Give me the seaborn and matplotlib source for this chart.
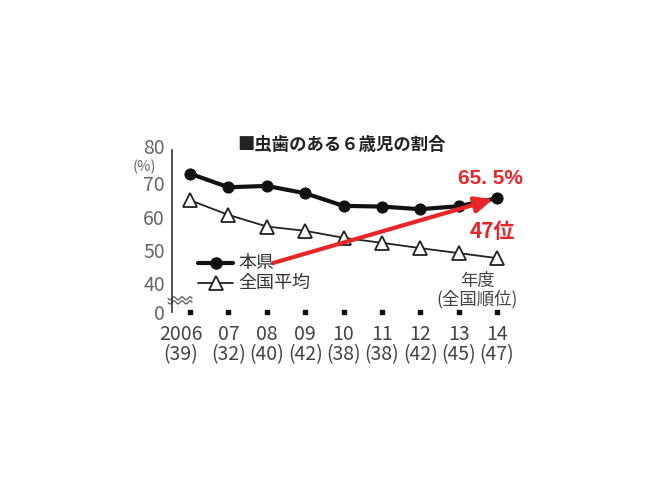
import matplotlib
matplotlib.use("Agg")
import matplotlib.pyplot as plt
import matplotlib.transforms as mtransforms
import seaborn as sns
import pandas as pd
import numpy as np

years = ["2006", "07", "08", "09", "10", "11", "12", "13", "14"]
ranks = ["(39)", "(32)", "(40)", "(42)", "(38)", "(38)", "(42)", "(45)", "(47)"]
pref = [72.9, 68.8, 69.2, 67.0, 63.2, 63.0, 62.2, 63.1, 65.5]
national = [64.9, 60.5, 57.0, 55.7, 53.6, 52.1, 50.5, 49.0, 47.5]
series_names = ["本県", "全国平均"]

sns.set_theme(style="white")
plt.rcParams['font.family'] = ['Noto Sans CJK JP', 'DejaVu Sans']

W, H = 660, 495
fig = plt.figure(figsize=(6.6, 4.95), dpi=100)
fig.patch.set_facecolor("white")

ax_left, ax_top, ax_bot, ax_right = 172, 150, 312, 515
ax = fig.add_axes([ax_left / W, 1 - ax_bot / H, (ax_right - ax_left) / W, (ax_bot - ax_top) / H])
ax.set_facecolor("none")

x = np.arange(len(years))
df = pd.DataFrame({"x": np.concatenate([x, x]),
                   "v": pref + national,
                   "s": [series_names[0]] * len(x) + [series_names[1]] * len(x)})

sns.lineplot(data=df[df.s == series_names[0]], x="x", y="v", ax=ax, color="#111111",
             linewidth=3.0, marker="o", markersize=8, markeredgecolor="#111111", legend=False)
sns.lineplot(data=df[df.s == series_names[1]], x="x", y="v", ax=ax, color="#222222",
             linewidth=1.3, marker="^", markersize=10.5, markerfacecolor="white",
             markeredgecolor="#222222", markeredgewidth=1.3, legend=False)

ymin = 31.3
ax.set_ylim(ymin, 80)
x0 = -18 / 38.375
ax.set_xlim(x0, 8 + (ax_right - 497) / 38.375)

for s in ["top", "right", "bottom"]:
    ax.spines[s].set_visible(False)
ax.spines["left"].set_color("#333333")
ax.spines["left"].set_linewidth(1.2)

ax.set_yticks([ymin, 40, 50, 60, 70, 80])
ax.set_yticklabels(["0", "40", "50", "60", "70", "80"])
ax.tick_params(axis="y", direction="in", length=7, width=1.2, color="#333333",
               labelsize=14, labelcolor="#666666", pad=5)
top_lbl = ax.get_yticklabels()[-1]
top_lbl.set_transform(top_lbl.get_transform() + mtransforms.ScaledTranslation(0, 0.04, fig.dpi_scale_trans))
ax.set_xticks(x)
ax.set_xticklabels([f"{y}\n{r}" for y, r in zip(years, ranks)], linespacing=0.9)
ax.tick_params(axis="x", length=0, labelsize=14, labelcolor="#444444", pad=9)
ax.set_xlabel("")
ax.set_ylabel("")
first = ax.get_xticklabels()[0]
first.set_transform(first.get_transform() + mtransforms.ScaledTranslation(-0.09, 0, fig.dpi_scale_trans))

# small square tick marks along bottom
ax.scatter(x, [ymin] * len(x), marker="s", s=10, color="#111111", clip_on=False, zorder=5)

# wavy break marks
tt = np.linspace(x0 - 0.1, x0 + 0.52, 60)
for off in (0, 1.2):
    ax.plot(tt, 34.2 + off + 0.45 * np.sin((tt - x0) * 30), color="#666666", lw=1.0, clip_on=False)

# (%)
fig.text(144 / W, 1 - 167 / H, "(%)", fontsize=10.5, color="#666666", ha="center", va="center")

# title
fig.text(342 / W, 1 - 145 / H, "■虫歯のある６歳児の割合", fontsize=12.5, fontweight="bold",
         color="#222222", ha="center", va="center")

# legend (manual)
def px2data(px, py):
    inv = ax.transData.inverted()
    return inv.transform((px, H - py))

lx0, lx1 = px2data(198, 0)[0], px2data(233, 0)[0]
ly1 = px2data(0, 263)[1]
ly2 = px2data(0, 283)[1]
ax.plot([lx0, lx1], [ly1, ly1], color="#111111", lw=3.0, clip_on=False)
ax.plot([(lx0 + lx1) / 2], [ly1], marker="o", ms=8, color="#111111", clip_on=False)
ax.plot([lx0, lx1], [ly2, ly2], color="#222222", lw=1.3, clip_on=False)
ax.plot([(lx0 + lx1) / 2], [ly2], marker="^", ms=10.5, mfc="white", mec="#222222", mew=1.3, clip_on=False)
fig.text(238 / W, 1 - 263 / H, series_names[0], fontsize=13, color="#333333", va="center")
fig.text(238 / W, 1 - 283 / H, series_names[1], fontsize=13, color="#333333", va="center")

# 年度 labels
fig.text(477 / W, 1 - 281 / H, "年度", fontsize=12.5, color="#444444", ha="center", va="center")
fig.text(477 / W, 1 - 299 / H, "(全国順位)", fontsize=12.5, color="#444444", ha="center", va="center")

# red arrow
red = "#e8262a"
sx, sy = px2data(273, 263)
ax.annotate("", xy=(x[-1] - 0.1, pref[-1] - 0.3), xytext=(sx, sy),
            arrowprops=dict(arrowstyle="-|>,head_length=0.9,head_width=0.4", color=red, lw=3.0,
                            shrinkA=0, shrinkB=0), annotation_clip=False)

fig.text(490 / W, 1 - 178 / H, f"{pref[-1]:.1f}".replace(".", ". ") + "%", fontsize=15,
         fontweight="bold", color=red, ha="center", va="center", family="Liberation Sans")
fig.text(492 / W, 1 - 231 / H, "47位", fontsize=15, fontweight="bold", color=red,
         ha="center", va="center")

fig.savefig("out.png", dpi=100, facecolor="white")
